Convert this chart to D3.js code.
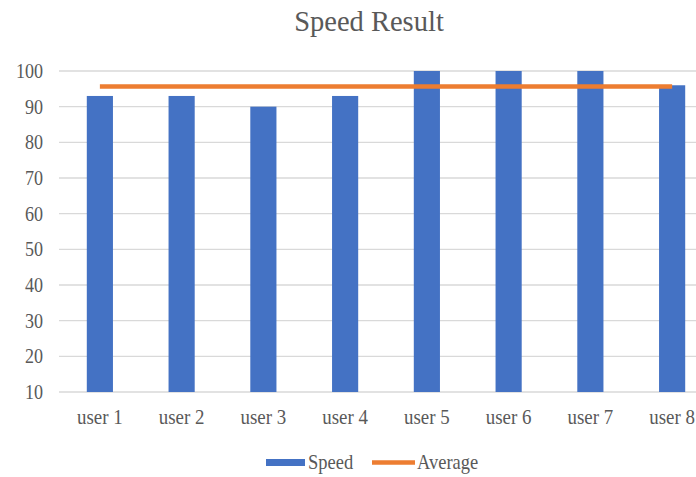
<!DOCTYPE html>
<html>
<head>
<meta charset="utf-8">
<script src="https://cdn.jsdelivr.net/npm/d3@7"></script>
</head>
<body style="margin:0;background:#fff;overflow:hidden">
<svg id="chart" width="696" height="477" style="display:block"></svg>
<script>
// Speed result per user, with the overall average drawn as a line
const users = ["user 1", "user 2", "user 3", "user 4", "user 5", "user 6", "user 7", "user 8"];
const speed = [93, 93, 90, 93, 100, 100, 100, 96];
const yTicks = [10, 20, 30, 40, 50, 60, 70, 80, 90, 100];
const average = d3.mean(speed);

const serif = "'Liberation Serif'";
const ink = "#595959";
const svg = d3.select("#chart");
const squeeze = 0.88; // narrow serif glyphs horizontally

const x = d3.scaleBand().domain(users).range([59, 713]).paddingInner(0.68).paddingOuter(0.34);
const y = d3.scaleLinear().domain([10, 100]).range([392, 71]);

function label(sel, size) {
  return sel.style("font-family", serif).style("font-size", size + "px").attr("fill", ink);
}

// gridlines
svg.append("g").selectAll("line").data(yTicks).join("line")
  .attr("x1", 59).attr("x2", 713)
  .attr("y1", d => y(d)).attr("y2", d => y(d))
  .attr("stroke", "#d9d9d9").attr("stroke-width", 1.3);

// y tick labels
label(svg.append("g").selectAll("text").data(yTicks).join("text"), 21)
  .attr("transform", d => `translate(43,${y(d) + 7}) scale(0.86,1)`)
  .attr("text-anchor", "end")
  .text(d => d);

// bars
svg.append("g").selectAll("rect").data(speed).join("rect")
  .attr("x", (d, i) => x(users[i]))
  .attr("width", x.bandwidth())
  .attr("y", d => y(d))
  .attr("height", d => y(10) - y(d))
  .attr("fill", "#4472C4");

// average line across the category centres
const line = d3.line()
  .x(d => x(d) + x.bandwidth() / 2)
  .y(() => y(average));
svg.append("path")
  .datum(users)
  .attr("d", line)
  .attr("fill", "none")
  .attr("stroke", "#ED7D31")
  .attr("stroke-width", 4.5);

// x labels
label(svg.append("g").selectAll("text").data(users).join("text"), 21.5)
  .attr("transform", d => `translate(${x(d) + x.bandwidth() / 2},424) scale(${squeeze},1)`)
  .attr("text-anchor", "middle")
  .text(d => d);

// title
label(svg.append("text"), 28.5)
  .attr("x", 369).attr("y", 31)
  .attr("text-anchor", "middle")
  .text("Speed Result");

// legend
const legend = svg.append("g");
legend.append("rect")
  .attr("x", 266).attr("y", 459).attr("width", 39).attr("height", 7)
  .attr("fill", "#4472C4");
label(legend.append("text"), 21)
  .attr("transform", `translate(308,469) scale(${squeeze},1)`)
  .text("Speed");
legend.append("line")
  .attr("x1", 372).attr("x2", 415).attr("y1", 462.5).attr("y2", 462.5)
  .attr("stroke", "#ED7D31").attr("stroke-width", 4.5);
label(legend.append("text"), 21)
  .attr("transform", `translate(417,469) scale(${squeeze},1)`)
  .text("Average");
</script>
</body>
</html>
